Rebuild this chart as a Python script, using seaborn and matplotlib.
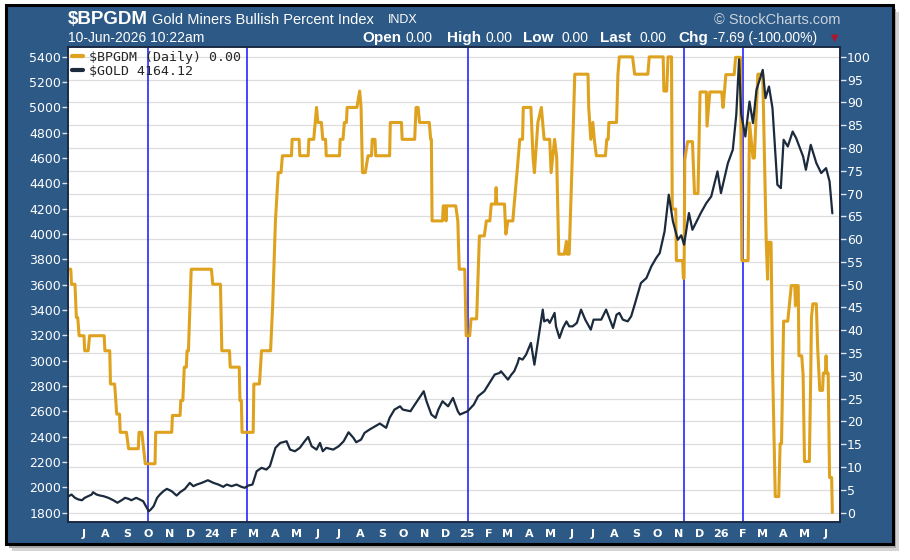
import pandas as pd
import matplotlib
matplotlib.use("Agg")
import matplotlib.pyplot as plt
from matplotlib.patches import Rectangle
from matplotlib.lines import Line2D
import seaborn as sns

sns.set_theme(style="white")
plt.rcParams["font.family"] = ["DejaVu Sans"]

# --------------------------
# Data
# --------------------------

bpi_dates = [
    "2023-06-09", "2023-06-12", "2023-06-13", "2023-06-18", "2023-06-20", "2023-06-22",
    "2023-06-24", "2023-07-01", "2023-07-02", "2023-07-07", "2023-07-09", "2023-07-30",
    "2023-07-31", "2023-08-07", "2023-08-08", "2023-08-14", "2023-08-17", "2023-08-21",
    "2023-08-22", "2023-08-31", "2023-09-03", "2023-09-17", "2023-09-18", "2023-09-22",
    "2023-09-27", "2023-10-11", "2023-10-12", "2023-11-04", "2023-11-05", "2023-11-16",
    "2023-11-17", "2023-11-20", "2023-11-22", "2023-11-25", "2023-11-26", "2023-11-28",
    "2023-12-02", "2023-12-31", "2024-01-02", "2024-01-13", "2024-01-15", "2024-01-26",
    "2024-01-27", "2024-02-09", "2024-02-10", "2024-02-12", "2024-02-13", "2024-02-29",
    "2024-03-01", "2024-03-09", "2024-03-12", "2024-03-25", "2024-03-28", "2024-04-01",
    "2024-04-05", "2024-04-09", "2024-04-11", "2024-04-24", "2024-04-25", "2024-05-05",
    "2024-05-06", "2024-05-18", "2024-05-19", "2024-05-26", "2024-05-30", "2024-06-01",
    "2024-06-06", "2024-06-08", "2024-06-12", "2024-06-13", "2024-07-02", "2024-07-03",
    "2024-07-07", "2024-07-09", "2024-07-12", "2024-07-13", "2024-07-27", "2024-07-31",
    "2024-08-02", "2024-08-04", "2024-08-08", "2024-08-12", "2024-08-17", "2024-08-18",
    "2024-08-22", "2024-08-23", "2024-09-12", "2024-09-13", "2024-09-29", "2024-09-30",
    "2024-10-18", "2024-10-20", "2024-10-23", "2024-10-25", "2024-11-08", "2024-11-10",
    "2024-11-11", "2024-11-12", "2024-11-27", "2024-11-28", "2024-12-01", "2024-12-02",
    "2024-12-03", "2024-12-16", "2024-12-19", "2024-12-21", "2024-12-29", "2024-12-31",
    "2025-01-05", "2025-01-07", "2025-01-15", "2025-01-19", "2025-01-26", "2025-01-29",
    "2025-02-03", "2025-02-05", "2025-02-11", "2025-02-12", "2025-02-13", "2025-02-24",
    "2025-02-26", "2025-03-01", "2025-03-08", "2025-03-10", "2025-03-14", "2025-03-18",
    "2025-03-22", "2025-03-23", "2025-04-03", "2025-04-06", "2025-04-08", "2025-04-13",
    "2025-04-18", "2025-04-22", "2025-04-30", "2025-05-02", "2025-05-07", "2025-05-10",
    "2025-05-13", "2025-05-21", "2025-05-24", "2025-05-25", "2025-05-28", "2025-06-03",
    "2025-06-05", "2025-06-24", "2025-06-25", "2025-06-28", "2025-07-01", "2025-07-03",
    "2025-07-06", "2025-07-19", "2025-07-21", "2025-07-23", "2025-07-24", "2025-08-04",
    "2025-08-06", "2025-08-08", "2025-08-27", "2025-08-30", "2025-09-18", "2025-09-20",
    "2025-10-10", "2025-10-11", "2025-10-15", "2025-10-17", "2025-10-22", "2025-10-23",
    "2025-10-28", "2025-10-29", "2025-11-07", "2025-11-08", "2025-11-09", "2025-11-10",
    "2025-11-14", "2025-11-21", "2025-11-24", "2025-11-29", "2025-12-02", "2025-12-11",
    "2025-12-12", "2025-12-16", "2026-01-02", "2026-01-04", "2026-01-06", "2026-01-08",
    "2026-01-20", "2026-01-22", "2026-01-29", "2026-01-31", "2026-02-09", "2026-02-11",
    "2026-02-13", "2026-02-16", "2026-02-18", "2026-02-23", "2026-03-02", "2026-03-04",
    "2026-03-07", "2026-03-09", "2026-03-10", "2026-03-14", "2026-03-16", "2026-03-20",
    "2026-03-25", "2026-03-27", "2026-03-29", "2026-04-01", "2026-04-07", "2026-04-12",
    "2026-04-17", "2026-04-18", "2026-04-19", "2026-04-22", "2026-04-23", "2026-04-27",
    "2026-04-29", "2026-05-01", "2026-05-08", "2026-05-10", "2026-05-11", "2026-05-13",
    "2026-05-18", "2026-05-20", "2026-05-23", "2026-05-27", "2026-05-28", "2026-05-31",
    "2026-06-01", "2026-06-02", "2026-06-04", "2026-06-06", "2026-06-09", "2026-06-10",
]
bpi_values = [
    53.4, 53.4, 50.1, 50.1, 42.8, 42.8,
    38.8, 38.8, 35.5, 35.5, 38.8, 38.8,
    35.5, 35.5, 28.2, 28.2, 21.6, 21.6,
    17.6, 17.6, 14.0, 14.0, 17.6, 17.6,
    10.7, 10.7, 17.6, 17.6, 21.3, 21.3,
    24.6, 24.6, 31.9, 31.9, 35.5, 35.5,
    53.4, 53.4, 50.1, 50.1, 35.5, 35.5,
    31.9, 31.9, 24.6, 24.6, 17.6, 17.6,
    28.2, 28.2, 35.5, 35.5, 45.4, 64.0,
    74.6, 74.6, 78.3, 78.3, 81.9, 81.9,
    78.3, 78.3, 81.9, 81.9, 88.9, 85.6,
    85.6, 81.9, 81.9, 78.3, 78.3, 81.9,
    81.9, 85.6, 85.6, 88.9, 88.9, 92.5,
    88.9, 74.6, 74.6, 78.3, 78.3, 81.9,
    81.9, 78.3, 78.3, 85.6, 85.6, 81.9,
    81.9, 88.9, 88.9, 85.6, 85.6, 81.9,
    81.9, 64.0, 64.0, 67.3, 67.3, 64.0,
    67.3, 67.3, 64.0, 53.4, 53.4, 38.8,
    38.8, 42.5, 42.5, 60.7, 60.7, 64.0,
    64.0, 67.7, 67.7, 71.3, 67.7, 67.7,
    61.1, 64.0, 64.0, 67.7, 74.6, 81.9,
    81.9, 88.9, 88.9, 78.0, 74.6, 85.6,
    88.9, 81.9, 81.9, 74.6, 81.9, 78.0,
    56.7, 56.7, 59.5, 56.7, 56.7, 85.6,
    96.2, 96.2, 88.9, 81.9, 85.6, 81.9,
    78.3, 78.3, 81.9, 81.9, 85.6, 85.6,
    96.2, 100.0, 100.0, 96.2, 96.2, 100.0,
    100.0, 92.5, 92.5, 100.0, 100.0, 66.6,
    66.6, 55.3, 55.3, 51.4, 51.4, 77.4,
    81.4, 81.4, 70.0, 70.0, 92.3, 92.3,
    84.8, 92.3, 92.3, 88.9, 92.3, 96.1,
    96.1, 99.9, 99.9, 55.3, 55.3, 85.5,
    82.4, 77.8, 77.8, 96.2, 96.2, 81.6,
    59.6, 51.2, 59.3, 59.3, 33.0, 3.5,
    3.5, 15.1, 15.1, 42.0, 42.0, 49.8,
    49.8, 45.4, 49.8, 49.8, 34.4, 34.4,
    30.2, 11.2, 11.2, 30.5, 42.8, 45.8,
    45.8, 35.8, 26.8, 26.8, 30.6, 30.6,
    34.4, 30.6, 30.6, 7.69, 7.69, 0.0,
]

gold_dates = [
    "2023-06-09", "2023-06-13", "2023-06-18", "2023-06-23", "2023-06-28", "2023-07-02",
    "2023-07-07", "2023-07-12", "2023-07-14", "2023-07-19", "2023-07-24", "2023-07-29",
    "2023-08-05", "2023-08-12", "2023-08-18", "2023-08-24", "2023-08-29", "2023-09-03",
    "2023-09-07", "2023-09-14", "2023-09-19", "2023-09-24", "2023-09-28", "2023-10-02",
    "2023-10-05", "2023-10-09", "2023-10-14", "2023-10-18", "2023-10-23", "2023-10-28",
    "2023-11-04", "2023-11-11", "2023-11-16", "2023-11-23", "2023-11-30", "2023-12-05",
    "2023-12-10", "2023-12-17", "2023-12-26", "2024-01-03", "2024-01-10", "2024-01-17",
    "2024-01-22", "2024-01-29", "2024-02-05", "2024-02-12", "2024-02-17", "2024-02-22",
    "2024-02-28", "2024-03-05", "2024-03-12", "2024-03-19", "2024-03-24", "2024-04-01",
    "2024-04-08", "2024-04-17", "2024-04-22", "2024-04-29", "2024-05-06", "2024-05-13",
    "2024-05-18", "2024-05-23", "2024-05-30", "2024-06-04", "2024-06-08", "2024-06-13",
    "2024-06-23", "2024-07-01", "2024-07-08", "2024-07-15", "2024-07-22", "2024-07-26",
    "2024-08-02", "2024-08-07", "2024-08-14", "2024-08-22", "2024-08-29", "2024-09-07",
    "2024-09-12", "2024-09-19", "2024-09-27", "2024-10-01", "2024-10-12", "2024-10-15",
    "2024-10-23", "2024-10-31", "2024-11-04", "2024-11-11", "2024-11-17", "2024-11-21",
    "2024-11-27", "2024-12-05", "2024-12-12", "2024-12-19", "2024-12-22", "2025-01-02",
    "2025-01-11", "2025-01-17", "2025-01-23", "2025-01-26", "2025-02-01", "2025-02-10",
    "2025-02-17", "2025-02-19", "2025-03-01", "2025-03-06", "2025-03-10", "2025-03-15",
    "2025-03-17", "2025-03-22", "2025-03-27", "2025-04-03", "2025-04-08", "2025-04-15",
    "2025-04-20", "2025-04-22", "2025-04-27", "2025-04-30", "2025-05-07", "2025-05-09",
    "2025-05-14", "2025-05-19", "2025-05-24", "2025-05-28", "2025-06-02", "2025-06-08",
    "2025-06-14", "2025-06-20", "2025-06-28", "2025-07-02", "2025-07-13", "2025-07-20",
    "2025-07-30", "2025-08-04", "2025-08-08", "2025-08-13", "2025-08-20", "2025-08-25",
    "2025-08-30", "2025-09-08", "2025-09-16", "2025-09-23", "2025-09-30", "2025-10-05",
    "2025-10-12", "2025-10-18", "2025-10-24", "2025-10-31", "2025-11-05", "2025-11-09",
    "2025-11-16", "2025-11-21", "2025-12-03", "2025-12-11", "2025-12-18", "2025-12-27",
    "2026-01-01", "2026-01-11", "2026-01-18", "2026-01-23", "2026-01-27", "2026-01-30",
    "2026-02-05", "2026-02-11", "2026-02-16", "2026-02-21", "2026-03-02", "2026-03-06",
    "2026-03-11", "2026-03-16", "2026-03-23", "2026-03-28", "2026-04-01", "2026-04-07",
    "2026-04-14", "2026-04-19", "2026-04-29", "2026-05-03", "2026-05-10", "2026-05-18",
    "2026-05-25", "2026-06-01", "2026-06-06", "2026-06-10",
]
gold_values = [
    1929, 1942, 1916, 1903, 1897, 1916,
    1929, 1942, 1960, 1942, 1934, 1929,
    1916, 1897, 1877, 1897, 1916, 1908,
    1897, 1916, 1903, 1889, 1850, 1810,
    1824, 1850, 1916, 1942, 1968, 1987,
    1968, 1934, 1960, 1987, 2034, 2008,
    2021, 2034, 2055, 2034, 2021, 2003,
    2021, 2008, 2021, 2003, 1995, 2013,
    2021, 2126, 2153, 2139, 2166, 2311,
    2350, 2363, 2297, 2284, 2311, 2363,
    2397, 2324, 2297, 2350, 2284, 2311,
    2297, 2324, 2363, 2434, 2390, 2355,
    2376, 2429, 2455, 2481, 2503, 2469,
    2548, 2613, 2639, 2613, 2600, 2626,
    2692, 2758, 2679, 2574, 2548, 2613,
    2679, 2639, 2705, 2600, 2574, 2600,
    2653, 2718, 2745, 2758, 2811, 2890,
    2903, 2916, 2850, 2890, 2916, 2982,
    3021, 3008, 3047, 3140, 2968, 3219,
    3403, 3310, 3324, 3298, 3377, 3271,
    3179, 3258, 3310, 3271, 3271, 3298,
    3403, 3324, 3245, 3324, 3324, 3403,
    3258, 3363, 3377, 3324, 3310, 3350,
    3442, 3613, 3653, 3745, 3811, 3850,
    4021, 4311, 4100, 3955, 3990, 3916,
    4166, 4034, 4166, 4245, 4297, 4495,
    4324, 4561, 4666, 4942, 5380, 4950,
    4771, 5047, 4877, 5139, 5297, 5074,
    5166, 4995, 4390, 4363, 4745, 4692,
    4810, 4758, 4613, 4508, 4705, 4561,
    4482, 4521, 4416, 4164.12,
]

marker_dates = ["2023-10-01", "2024-02-20", "2025-01-03", "2025-11-09", "2026-02-02"]

x_tick_labels = ["J", "A", "S", "O", "N", "D", "24", "F", "M", "A", "M", "J",
                 "J", "A", "S", "O", "N", "D", "25", "F", "M", "A", "M", "J",
                 "J", "A", "S", "O", "N", "D", "26", "F", "M", "A", "M", "J"]
gold_ticks = list(range(1800, 5401, 200))
bpi_ticks = list(range(0, 101, 5))

bpi = pd.DataFrame({"date": pd.to_datetime(bpi_dates), "value": bpi_values})
gold = pd.DataFrame({"date": pd.to_datetime(gold_dates), "value": gold_values})

ORANGE = "#dea21f"
DARK = "#1b2a3c"
PANEL = "#2c5985"
W, H = 910, 560


def fx(x):
    return x / W


def fy(y):
    return 1 - y / H


fig = plt.figure(figsize=(W / 100, H / 100), dpi=100)
fig.patch.set_facecolor("white")

# framed blue panel with a soft shadow
fig.add_artist(Rectangle((fx(12), fy(551)), (893 - 6) / W, (544 - 5) / H, transform=fig.transFigure,
                         facecolor="#d4d4d4", edgecolor="none", zorder=-12))
fig.add_artist(Rectangle((fx(9), fy(548)), (893 - 6) / W, (544 - 5) / H, transform=fig.transFigure,
                         facecolor="#a8a8a8", edgecolor="none", zorder=-11))
fig.add_artist(Rectangle((fx(6), fy(544)), (893 - 6) / W, (544 - 5) / H, transform=fig.transFigure,
                         facecolor=PANEL, edgecolor="black", linewidth=2.2, zorder=-10))

ax = fig.add_axes([fx(68), fy(522), (840 - 68) / W, (522 - 47) / H])
ax.set_facecolor("white")
ax2 = ax.twinx()

# vertical blue markers
for d in marker_dates:
    ax.axvline(pd.Timestamp(d), color="#1414ff", linewidth=1.1, zorder=1.5)

sns.lineplot(data=bpi, x="date", y="value", ax=ax, color=ORANGE, linewidth=2.2,
             estimator=None, sort=False, zorder=2)
sns.lineplot(data=gold, x="date", y="value", ax=ax2, color=DARK, linewidth=1.6,
             estimator=None, sort=False)

ax.set_xlim(pd.Timestamp("2023-06-08"), pd.Timestamp("2026-06-21"))
ax2.set_ylim(1725, 5478)
ax.set_ylim((1725 - 1800) / 36, (5478 - 1800) / 36)

month_starts = pd.date_range("2023-07-01", periods=len(x_tick_labels), freq="MS")
ax.set_xticks(month_starts)
ax.set_xticklabels(x_tick_labels)
ax.set_xticks(pd.date_range("2023-07-01", "2026-04-01", freq="QS"), minor=True)
for lab in ax.get_xticklabels():
    lab.set_fontweight("bold")
    if lab.get_text().isdigit():
        lab.set_fontsize(11)

ax.set_yticks(bpi_ticks)
ax2.set_yticks(gold_ticks)
ax.yaxis.tick_right()
ax2.yaxis.tick_left()

ax.grid(True, which="major", axis="y", color="#dddddd", linewidth=0.9)
ax.grid(True, which="minor", axis="x", color="#d6d6d6", linewidth=0.9)
ax.set_axisbelow(True)

ax.tick_params(axis="x", which="major", colors="#1b2a3c", labelcolor="white",
               length=3, width=1, pad=2, labelsize=8)
ax.tick_params(axis="x", which="minor", length=0)
ax.tick_params(axis="y", colors="#dde4ee", labelcolor="white", length=4, width=1, pad=1, labelsize=9)
ax2.tick_params(axis="y", colors="#dde4ee", labelcolor="white", length=4, width=1, pad=1, labelsize=9)

for a in (ax, ax2):
    a.set_xlabel("")
    a.set_ylabel("")
    for s in a.spines.values():
        s.set_color("#1b2a44")
        s.set_linewidth(1.2)

handles = [Line2D([], [], color=ORANGE, linewidth=3), Line2D([], [], color=DARK, linewidth=3)]
leg = ax2.legend(handles, ["$BPGDM (Daily) 0.00", "$GOLD 4164.12"], loc="upper left",
                 bbox_to_anchor=(0.0, 1.0), frameon=False,
                 prop={"family": "DejaVu Sans Mono", "size": 9.5},
                 handlelength=0.8, handletextpad=0.5, labelspacing=0.05,
                 borderaxespad=0.1, borderpad=0.2)

# --------------------------
# Header
# --------------------------
hf = "Liberation Sans"
fig.text(fx(68), fy(20), "$BPGDM", color="white", fontsize=13.5, fontweight="bold",
         family=hf, va="center", ha="left")
fig.text(fx(152), fy(20), "Gold Miners Bullish Percent Index", color="white", fontsize=10.5,
         family=hf, va="center", ha="left")
fig.text(fx(388), fy(20), "INDX", color="white", fontsize=9, family=hf, va="center", ha="left")
fig.text(fx(68), fy(38), "10-Jun-2026 10:22am", color="white", fontsize=10,
         family=hf, va="center", ha="left")
fig.text(fx(840), fy(20), "\u00a9 StockCharts.com", color="#c9d2dc", fontsize=10.5,
         family=hf, va="center", ha="right")

quote = [(362, "Open", True), (406, "0.00", False), (447, "High", True), (485, "0.00", False),
         (523, "Low", True), (562, "0.00", False), (600, "Last", True), (639, "0.00", False),
         (678, "Chg", True), (713, "-7.69 (-100.00%)", False)]
for xp, txt, bold in quote:
    fig.text(fx(xp), fy(38), txt, color="white", fontsize=11 if bold else 10,
             fontweight="bold" if bold else "normal", family=hf, va="center", ha="left")
fig.text(fx(835), fy(38), "\u25bc", color="#b5122e", fontsize=7, family="DejaVu Sans",
         va="center", ha="center")

fig.savefig("out.png", dpi=100, facecolor="white")
